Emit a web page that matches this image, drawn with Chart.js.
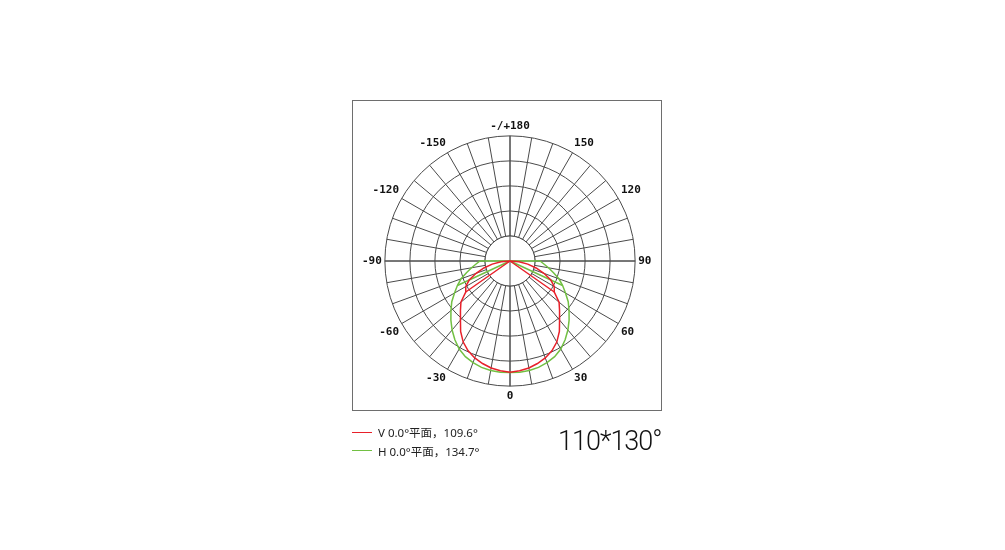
<!DOCTYPE html>
<html>
<head>
<meta charset="utf-8">
<script src="https://cdn.jsdelivr.net/npm/chart.js@4.4.0/dist/chart.umd.min.js"></script>
<style>
  body { margin: 0; background: #fff; }
  #frame { position: absolute; left: 352px; top: 100px; width: 310px; height: 311px; box-sizing: border-box; border: 1px solid #6e6e6e; }
  #wrap { position: absolute; left: 0; top: 0; width: 1005px; height: 550px; }
  #legend { position: absolute; left: 352px; top: 423px; font-size: 11.5px; font-family: "Noto Sans", "Noto Sans CJK SC", sans-serif; color: #222; }
  .row { height: 18.5px; display: flex; align-items: center; }
  .swatch { width: 20px; height: 0; border-top: 1.5px solid; margin-right: 6px; }
  #title { position: absolute; left: 558px; top: 428px; font-family: Roboto, sans-serif; font-weight: 300; font-size: 27px; line-height: 1; color: #111; letter-spacing: -1px; }
</style>
</head>
<body>
<div id="frame"></div>
<div id="wrap"><canvas id="polar"></canvas></div>
<div id="legend"></div>
<div id="title"></div>
<script>
// gamma angles of the readings (0 = down, +90 = right, -90 = left)
const gammas = [-90, -85, -80, -75, -70, -65, -60, -55, -50, -45, -40, -35, -30, -25, -20, -15, -10, -5,
  0, 5, 10, 15, 20, 25, 30, 35, 40, 45, 50, 55, 60, 65, 70, 75, 80, 85, 90];

// V plane (red)
const vValues = [0, 9, 18, 27, 36, 45, 51, 54, 64, 70, 77, 86, 93.5, 99, 103, 106, 108.5, 110,
  111, 110, 108.5, 106, 103, 99, 93.5, 86, 77, 70, 64, 54, 51, 45, 36, 27, 18, 9, 0];
// H plane (green)
const hValues = [30, 34, 39, 45, 52, 58, 64, 71, 77, 83.5, 90, 96, 101.5, 105.5, 108, 110, 111, 111.5,
  111.5, 111.5, 111, 110, 108, 105.5, 101.5, 96, 90, 83.5, 77, 71, 64, 58, 52, 45, 39, 34, 30];

// straight lines from the centre out to the curve
const vChordAngles = [-55, 55];
const hChordAngles = [-65, 65];

const seriesNames = ['V 0.0°平面，109.6°', 'H 0.0°平面，134.7°'];
const seriesColors = ['#e8202a', '#72c043'];
const beamTitle = '110*130°';

// clockwise from the top, every 30 degrees
const angleLabels = ['-/+180', '150', '120', '90', '60', '30', '0', '-30', '-60', '-90', '-120', '-150'];

const STEP = 5;
const COUNT = 360 / STEP;
const gridColor = '#4a4a4a';

const labels = [];
for (let i = 0; i < COUNT; i++) {
  labels.push(i % 6 === 0 ? angleLabels[i / 6] : '');
}

function indexOf(g) {
  return (180 - g) / STEP;
}

function toRadar(values) {
  const out = new Array(COUNT).fill(0);   // behind the lamp the curve sits on the centre
  gammas.forEach((g, k) => { out[indexOf(g)] = values[k]; });
  return out;
}

function chords(values, angles) {
  const out = new Array(COUNT).fill(null);
  angles.forEach(a => {
    const i = indexOf(a);
    out[i] = values[gammas.indexOf(a)];
    out[a > 0 ? i - 1 : i + 1] = 0;
  });
  return out;
}

const lineStyle = { borderWidth: 1.5, pointRadius: 0, fill: false, tension: 0 };

const data = {
  labels: labels,
  datasets: [
    { label: seriesNames[0], data: toRadar(vValues), borderColor: seriesColors[0], ...lineStyle },
    { label: seriesNames[0] + ' chord', data: chords(vValues, vChordAngles), borderColor: seriesColors[0], spanGaps: false, ...lineStyle },
    { label: seriesNames[1], data: toRadar(hValues), borderColor: seriesColors[1], ...lineStyle },
    { label: seriesNames[1] + ' chord', data: chords(hValues, hChordAngles), borderColor: seriesColors[1], spanGaps: false, ...lineStyle }
  ]
};

// white hole in the middle, with the two axes running through it
const innerHole = {
  id: 'innerHole',
  beforeDatasetsDraw(chart) {
    const s = chart.scales.r;
    const ctx = chart.ctx;
    const r = s.getDistanceFromCenterForValue(25);
    ctx.save();
    ctx.beginPath();
    ctx.arc(s.xCenter, s.yCenter, r, 0, Math.PI * 2);
    ctx.fillStyle = '#fff';
    ctx.fill();
    ctx.strokeStyle = gridColor;
    ctx.lineWidth = 1;
    ctx.stroke();
    [0, 18, 36, 54].forEach(i => {
      const p = s.getPointPosition(i, s.drawingArea);
      ctx.beginPath();
      ctx.moveTo(s.xCenter, s.yCenter);
      ctx.lineTo(p.x, p.y);
      ctx.stroke();
    });
    ctx.restore();
  }
};

const config = {
  type: 'radar',
  data: data,
  options: {
    responsive: true,
    maintainAspectRatio: false,
    animation: false,
    layout: { padding: { left: 359, top: 113, right: 350, bottom: 141 } },
    scales: {
      r: {
        min: 0,
        max: 125,
        ticks: { display: false, stepSize: 25 },
        grid: { circular: true, color: gridColor, lineWidth: 1 },
        angleLines: {
          lineWidth: 1,
          color: ctx => ctx.index % 2 === 0 ? gridColor : 'rgba(0,0,0,0)'
        },
        pointLabels: {
          font: { family: 'DejaVu Sans Mono', size: 11, weight: 'bold' },
          color: '#111',
          padding: 3
        }
      }
    },
    plugins: {
      legend: { display: false },
      tooltip: { enabled: false },
      title: { display: false }
    }
  },
  plugins: [innerHole]
};

const myChart = new Chart(document.getElementById('polar'), config);

// legend + beam angle text
const legend = document.getElementById('legend');
seriesNames.forEach((name, k) => {
  const row = document.createElement('div');
  row.className = 'row';
  const sw = document.createElement('span');
  sw.className = 'swatch';
  sw.style.borderColor = seriesColors[k];
  const tx = document.createElement('span');
  tx.textContent = name;
  row.appendChild(sw);
  row.appendChild(tx);
  legend.appendChild(row);
});
document.getElementById('title').textContent = beamTitle;
</script>
</body>
</html>
